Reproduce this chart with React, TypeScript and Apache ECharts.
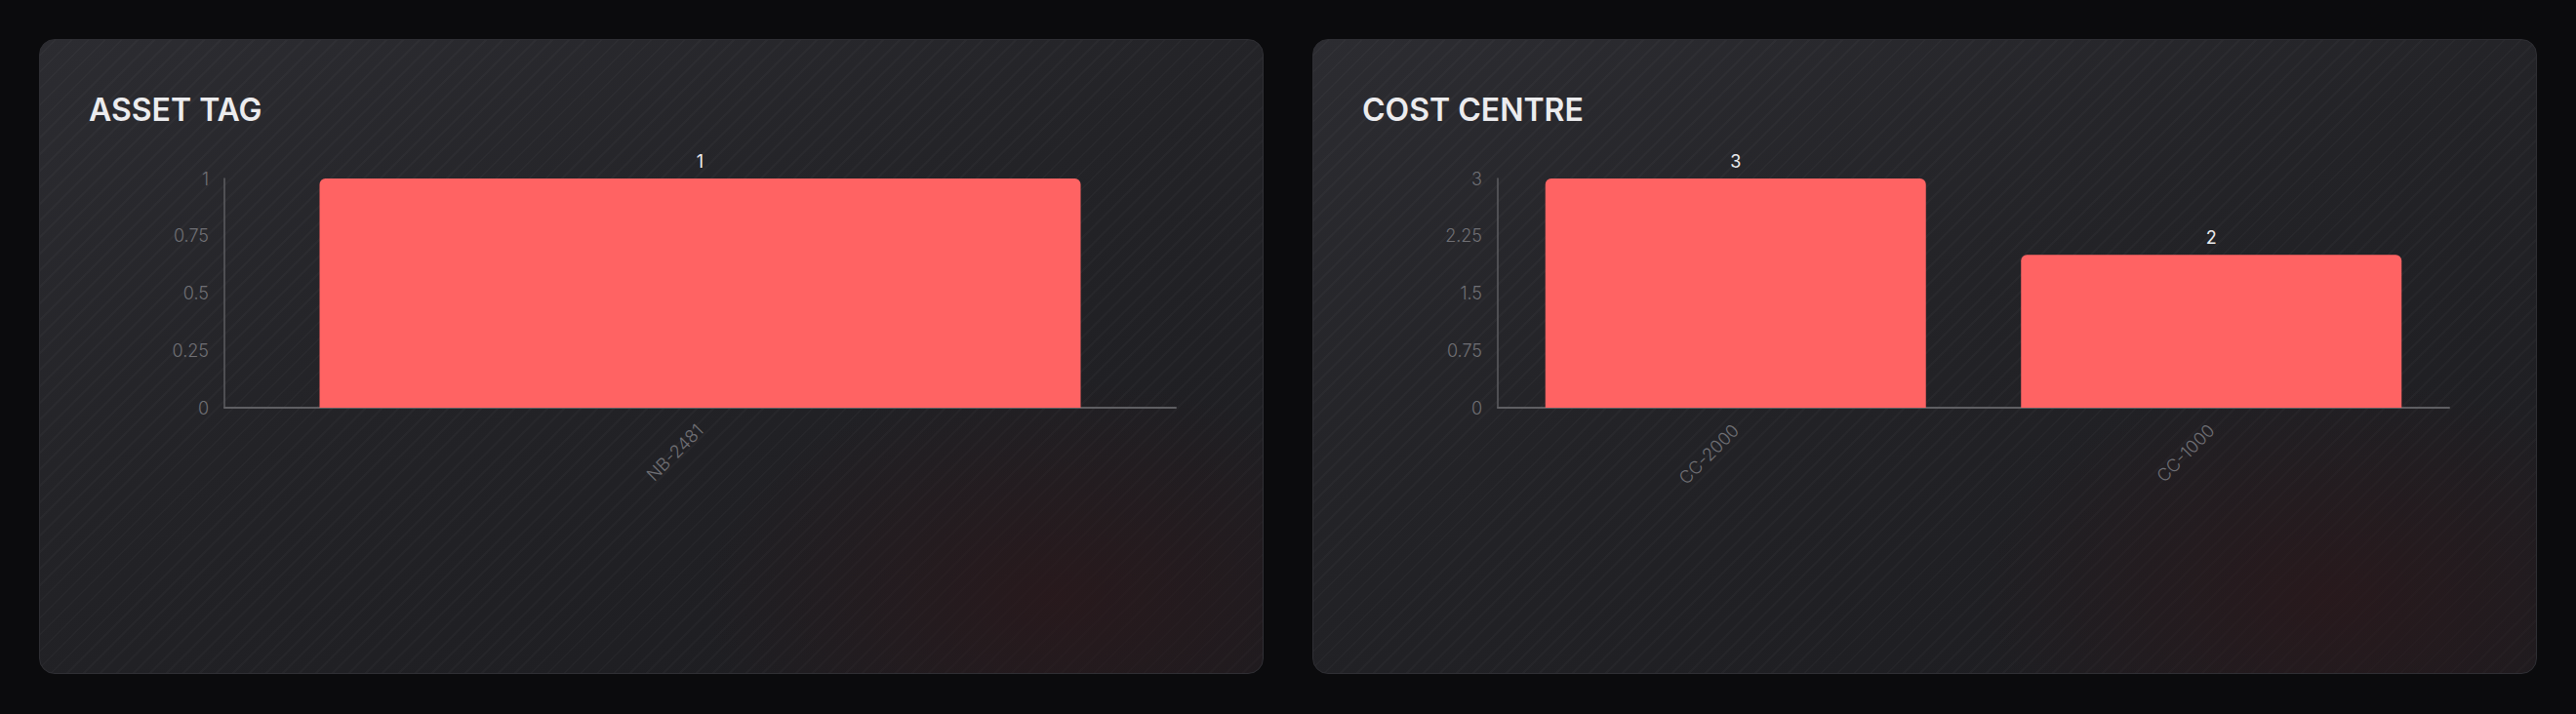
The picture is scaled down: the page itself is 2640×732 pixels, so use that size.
import * as echarts from 'echarts';
import { useEffect, useRef } from 'react';

const assetTags = ['NB-2481'];
const assetCounts = [1];

const costCentres = ['CC-2000', 'CC-1000'];
const costCounts = [3, 2];

const FONT = 'Inter, "Noto Sans", sans-serif';

const BarCard = ({ title, categories, values }: { title: string; categories: string[]; values: number[] }) => {
  const chartRef = useRef<HTMLDivElement>(null);

  useEffect(() => {
    if (!chartRef.current) return;
    const chart = echarts.init(chartRef.current, undefined, { renderer: 'svg' });
    const max = Math.max(...values);

    const option: echarts.EChartsOption = {
      animation: false,
      title: {
        text: title,
        left: 50,
        top: 55,
        padding: 0,
        textStyle: { color: '#ececee', fontSize: 32, fontWeight: 600, fontFamily: FONT },
      },
      grid: { left: 189, right: 89, top: 142, bottom: 272, containLabel: false },
      xAxis: {
        type: 'category',
        data: categories,
        axisLine: { lineStyle: { color: '#5e5e62', width: 2 } },
        axisTick: { show: false },
        axisLabel: {
          rotate: 45,
          margin: 20,
          color: '#707075',
          fontSize: 18,
          fontWeight: 300,
          fontFamily: FONT,
        },
      },
      yAxis: {
        type: 'value',
        min: 0,
        max,
        interval: max / 4,
        axisLine: { show: true, lineStyle: { color: '#5e5e62', width: 1.5 } },
        axisTick: { show: false },
        splitLine: { show: false },
        axisLabel: {
          margin: 16,
          color: '#707075',
          fontSize: 18,
          fontWeight: 300,
          fontFamily: FONT,
        },
      },
      series: [
        {
          type: 'bar',
          data: values,
          barCategoryGap: '20%',
          itemStyle: { color: '#ff6363', borderRadius: [6, 6, 0, 0] },
          label: {
            show: true,
            position: 'top',
            distance: 9,
            color: '#ececee',
            fontSize: 18,
            fontFamily: FONT,
          },
        },
      ],
    };

    chart.setOption(option);
    const handleResize = () => chart.resize();
    window.addEventListener('resize', handleResize);
    return () => {
      window.removeEventListener('resize', handleResize);
      chart.dispose();
    };
  }, [title, categories, values]);

  return (
    <div
      style={{
        position: 'relative',
        flex: 1,
        height: 651,
        boxSizing: 'border-box',
        border: '1px solid #2f2f34',
        borderRadius: 16,
        overflow: 'hidden',
        background: [
          'radial-gradient(ellipse 480px 300px at 83% 88%, rgba(42,24,27,0.8), rgba(42,24,27,0) 75%)',
          'repeating-linear-gradient(135deg, rgba(255,255,255,0) 0px, rgba(255,255,255,0) 10px, rgba(255,255,255,0.022) 10px, rgba(255,255,255,0.022) 12px)',
          'linear-gradient(160deg, #2c2c31 0%, #232327 45%, #1c1c20 100%)',
        ].join(', '),
      }}
    >
      <div ref={chartRef} style={{ position: 'absolute', left: 0, top: 0, width: '100%', height: '100%' }} />
    </div>
  );
};

export default function App() {
  return (
    <div
      style={{
        position: 'fixed',
        inset: 0,
        background: '#0b0b0d',
        display: 'flex',
        gap: 50,
        padding: '40px 40px 0 40px',
        boxSizing: 'border-box',
      }}
    >
      <BarCard title="ASSET TAG" categories={assetTags} values={assetCounts} />
      <BarCard title="COST CENTRE" categories={costCentres} values={costCounts} />
    </div>
  );
}
